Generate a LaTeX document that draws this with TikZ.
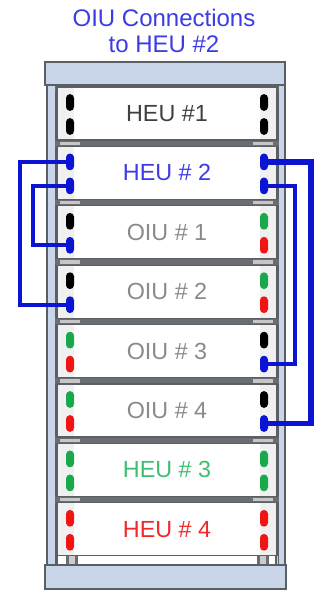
\documentclass[tikz,border=0pt]{standalone}
\usepackage{fontspec}
\setmainfont{Liberation Sans}
\definecolor{framefill}{HTML}{C9D6EA}
\definecolor{frameline}{HTML}{5A5F66}
\definecolor{railcol}{HTML}{6A6D72}
\definecolor{linkblue}{HTML}{0A14D2}
\definecolor{titleblue}{HTML}{3C3CE6}
\definecolor{portgreen}{HTML}{19A84B}
\definecolor{portred}{HTML}{F01414}
\definecolor{portblue}{HTML}{0A14D2}
\definecolor{heugreen}{HTML}{3CC070}
\definecolor{heured}{HTML}{F02828}
\definecolor{oiugray}{HTML}{8A8A8A}
\definecolor{heugray}{HTML}{404040}
\definecolor{stripgray}{HTML}{F0F0F0}
\tikzset{
  frame/.style={fill=framefill, draw=frameline, line width=0.8pt},
  rail/.style={fill=railcol, draw=none},
  unit/.style={draw=frameline, line width=0.9pt, fill=white, minimum width=165pt, minimum height=39.75pt,
    inner sep=0pt, font=\fontsize{17.5}{20}\selectfont,
    path picture={\fill[stripgray] (path picture bounding box.north west) rectangle ([xshift=13pt]path picture bounding box.south west);
                  \fill[stripgray] (path picture bounding box.north east) rectangle ([xshift=-13pt]path picture bounding box.south east);}},
  port/.style={draw=none, minimum width=6pt, minimum height=12.5pt, inner sep=0pt, rounded corners=2.9pt},
  link/.style={draw=linkblue, line width=3.2pt},
  linkthick/.style={draw=linkblue, line width=4.4pt},
  title/.style={text=titleblue, align=center, font=\fontsize{18}{19.5}\selectfont}
}
\begin{document}
\begin{tikzpicture}[x=0.75pt,y=-0.75pt]
\useasboundingbox (0,0) rectangle (321,592);
% rack interior
\fill[white] (57,85) rectangle (276,565);
% pillars
\draw[frame] (47,80) rectangle (57,570);
\draw[frame] (276,80) rectangle (285,570);
\draw[frameline, line width=0.6pt] (55,85) -- (55,565);
\draw[frameline, line width=0.6pt] (278,85) -- (278,565);
% rails
\foreach \ry in {84,140,199.4,258.8,318.2,377.6,437,496.4}{
  \fill[rail] (55,\ry) rectangle (279,\ry+6.5);
  \fill[gray!45] (60,\ry+1.5) rectangle (80,\ry+5);
  \fill[gray!45] (253,\ry+1.5) rectangle (273,\ry+5);
}
% bottom posts
\fill[railcol] (66,553) rectangle (78,565);
\fill[railcol] (257,553) rectangle (269,565);
\fill[gray!40] (69,553) rectangle (75,565);
\fill[gray!40] (260,553) rectangle (266,565);
% top and bottom bars
\draw[frame] (45,62) rectangle (285,85);
\draw[frame] (45,565) rectangle (286,589);
% title
\node[title] (title) at (164,31) {OIU Connections\\to HEU \#2};
% units and ports
\foreach \n/\yc/\lab/\tc/\la/\lb/\ra/\rb in {
  heu1/113.5/HEU \#1/heugray/black/black/black/black,
  heu2/172.9/HEU \# 2/titleblue/portblue/portblue/portblue/portblue,
  oiu1/232.3/OIU \# 1/oiugray/black/portblue/portgreen/portred,
  oiu2/291.7/OIU \# 2/oiugray/black/portblue/portgreen/portred,
  oiu3/351.1/OIU \# 3/oiugray/portgreen/portred/black/portblue,
  oiu4/410.5/OIU \# 4/oiugray/portgreen/portred/black/portblue,
  heu3/469.9/HEU \# 3/heugreen/portgreen/portgreen/portgreen/portgreen,
  heu4/529.3/HEU \# 4/heured/portred/portred/portred/portred}{
  \node[unit, text=\tc] (\n) at (167,\yc) {\lab};
  \node[port, fill=\la] (\n-L1) at (70,\yc-11) {};
  \node[port, fill=\lb] (\n-L2) at (70,\yc+13) {};
  \node[port, fill=\ra] (\n-R1) at (264,\yc-11) {};
  \node[port, fill=\rb] (\n-R2) at (264,\yc+13) {};
}
% connections
\draw[link] (heu2-L1.center) -- ++(-50,0) |- (oiu2-L2.center);
\draw[link] (heu2-L2.center) -- ++(-37,0) |- (oiu1-L2.center);
\draw[link] (heu2-R2.center) -- ++(31,0) |- (oiu3-R2.center);
\draw[linkthick] (heu2-R1.center) -- ++(47,0) |- (oiu4-R2.center);
\end{tikzpicture}
\end{document}
